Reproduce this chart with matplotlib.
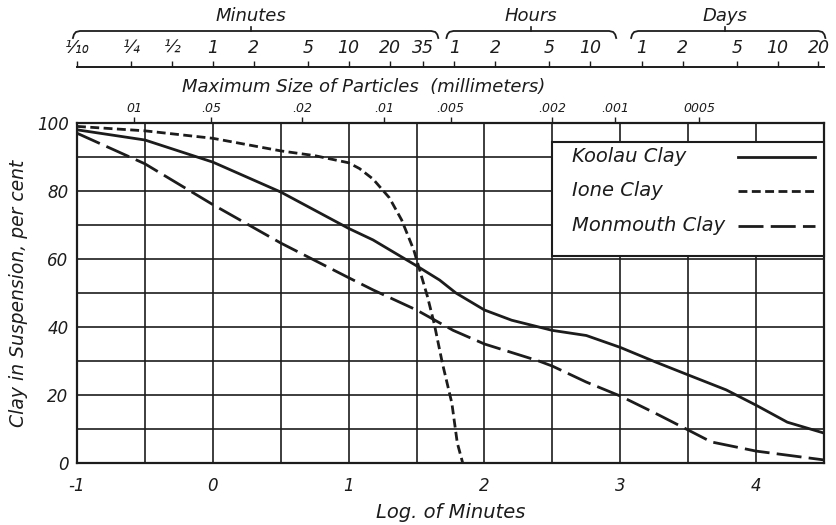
import numpy as np
import matplotlib
matplotlib.use("Agg")
import matplotlib.pyplot as plt
from matplotlib.patches import Rectangle
from matplotlib.ticker import NullLocator

plt.rcParams['font.family'] = ['DejaVu Sans']
plt.rcParams['font.style'] = 'oblique'

INK = '#1c1c1c'

# --- data: log10(minutes) vs clay in suspension (per cent) ---
koolau_x = [-1.0, -0.5, 0.0, 0.5, 1.0, 1.18, 1.5, 1.67, 1.79, 2.0, 2.2, 2.5, 2.75, 3.0, 3.26, 3.5, 3.78, 4.0, 4.23, 4.5]
koolau_y = [98, 95, 88.5, 79.7, 69, 65.6, 58, 53.8, 50, 45, 42, 39, 37.5, 34, 29.7, 25.9, 21.5, 17, 12, 8.8]

ione_x = [-1.0, -0.5, 0.0, 0.5, 0.75, 1.0, 1.08, 1.18, 1.30, 1.39, 1.48, 1.58, 1.63, 1.69, 1.76, 1.80, 1.84]
ione_y = [99, 97.7, 95.5, 91.8, 90.4, 88.3, 86.6, 83.5, 78, 71.5, 62.6, 49, 41, 29.4, 17.6, 5.9, 0]

monmouth_x = [-1.0, -0.5, 0.0, 0.5, 1.0, 1.18, 1.5, 1.77, 2.0, 2.4, 2.5, 2.75, 3.0, 3.26, 3.5, 3.67, 4.0, 4.5]
monmouth_y = [97, 88, 76, 64.7, 54.5, 50.9, 45, 39, 35, 30, 28.5, 23.8, 19.7, 14.6, 9.7, 6.2, 3.5, 0.9]

series_names = ['Koolau Clay', 'Ione Clay', 'Monmouth Clay']

# top scale (time)
minute_ticks = [0.1, 0.25, 0.5, 1, 2, 5, 10, 20, 35]
minute_labels = ['⅒', '¼', '½', '1', '2', '5', '10', '20', '35']
hour_ticks = [1, 2, 5, 10]
day_ticks = [1, 2, 5, 10, 20]

# particle sizes (mm), placed at log10 minutes
particle_pos = [-0.58, -0.01, 0.66, 1.26, 1.75, 2.50, 2.96, 3.58]
particle_labels = ['01', '.05', '.02', '.01', '.005', '.002', '.001', '0005']

W, H = 837, 525
fig = plt.figure(figsize=(W / 100, H / 100), dpi=100)
fig.patch.set_facecolor('white')

left, right, top, bottom = 77, 824, 123, 463
ax = fig.add_axes([left / W, 1 - bottom / H, (right - left) / W, (bottom - top) / H])

styles = ['-', (0, (3.2, 1.6)), (0, (9, 2.6))]
for xs, ys, st in zip([koolau_x, ione_x, monmouth_x], [koolau_y, ione_y, monmouth_y], styles):
    ax.plot(xs, ys, color=INK, lw=2.0, ls=st, zorder=4)

ax.set_xlim(-1, 4.5)
ax.set_ylim(0, 100)
ax.set_xticks([-1, 0, 1, 2, 3, 4])
ax.set_xticklabels(['-1', '0', '1', '2', '3', '4'])
ax.set_xticks(np.arange(-1, 4.51, 0.5), minor=True)
ax.set_yticks([0, 20, 40, 60, 80, 100])
ax.set_yticks(np.arange(0, 101, 10), minor=True)
ax.set_axisbelow(True)
ax.grid(which='both', color=INK, lw=1.2)
ax.tick_params(which='both', length=0, labelsize=12, colors=INK)
ax.tick_params(axis='x', pad=10)
ax.tick_params(axis='y', pad=6)
for s in ax.spines.values():
    s.set_linewidth(1.6)
    s.set_color(INK)

ax.set_xlabel('Log. of Minutes', fontsize=14, color=INK, labelpad=6)
ax.set_ylabel('Clay in Suspension, per cent', fontsize=13.5, color=INK, labelpad=6)

# legend box covering the grid, entries drawn by hand (text left, sample right)
box = Rectangle((2.5, 61), 2.0, 33.4, facecolor='white', edgecolor=INK, lw=1.5,
                zorder=3, clip_on=False)
ax.add_patch(box)


def ax_x(px):
    return (px - left) / (right - left)


def ax_y(py):
    return (bottom - py) / (bottom - top)


for name, st, py in zip(series_names, styles, [157, 191, 226]):
    ax.text(ax_x(572), ax_y(py), name, transform=ax.transAxes, ha='left', va='center',
            fontsize=14, color=INK, zorder=6)
    ax.plot([ax_x(738), ax_x(815)], [ax_y(py), ax_y(py)], transform=ax.transAxes,
            color=INK, lw=2.0, ls=st, zorder=6, clip_on=False)

# particle size scale along the top of the plot
sec = ax.secondary_xaxis('top')
sec.set_xticks(particle_pos)
sec.set_xticklabels(particle_labels)
sec.tick_params(length=4, width=1, pad=2, labelsize=9, colors=INK)
sec.spines['top'].set_visible(False)
fig.text((170 + 558) / 2 / W, 1 - 87 / H, 'Maximum Size of Particles  (millimeters)',
         ha='center', va='center', fontsize=13, color=INK)

# time scale above
line_y = 67
axt = fig.add_axes([left / W, 1 - line_y / H, (right - left) / W, 0.0001])
axt.set_xscale('log')
axt.set_xlim(10 ** -1, 10 ** 4.5)
for s in ['left', 'right', 'bottom']:
    axt.spines[s].set_visible(False)
axt.spines['top'].set_linewidth(1.4)
axt.spines['top'].set_color(INK)
axt.set_yticks([])
axt.xaxis.tick_top()
axt.xaxis.set_minor_locator(NullLocator())
ticks = minute_ticks + [h * 60 for h in hour_ticks] + [d * 1440 for d in day_ticks]
labels = minute_labels + [str(h) for h in hour_ticks] + [str(d) for d in day_ticks]
axt.set_xticks(ticks)
axt.set_xticklabels(labels)
axt.tick_params(axis='x', direction='out', length=4, width=1, pad=3, labelsize=12.5, colors=INK)
axt.set_facecolor('none')

# brackets with group names
groups = [('Minutes', -1.03, 1.66, 0.28), ('Hours', 1.72, 2.97, 2.34), ('Days', 3.08, 4.51, 3.77)]


def xfig(v):
    px = ax.transData.transform((v, 0))[0]
    return px / W


by = 1 - 31 / H
dx, dy = 1 / W, 1 / H
for name, x0, x1, xc in groups:
    a, b, c = xfig(x0), xfig(x1), xfig(xc)
    xs = [a, a + 1 * dx, a + 3 * dx, a + 7 * dx, b - 7 * dx, b - 3 * dx, b - 1 * dx, b]
    ys = [by - 7 * dy, by - 3.5 * dy, by - 1 * dy, by, by, by - 1 * dy, by - 3.5 * dy, by - 7 * dy]
    fig.add_artist(plt.Line2D(xs, ys, color=INK, lw=1.3, transform=fig.transFigure))
    fig.add_artist(plt.Line2D([c, c], [by, by + 4 * dy], color=INK, lw=1.2, transform=fig.transFigure))
    fig.text(c, 1 - 16 / H, name, ha='center', va='center', fontsize=13, color=INK)

fig.savefig('out.png', dpi=100, facecolor='white')
